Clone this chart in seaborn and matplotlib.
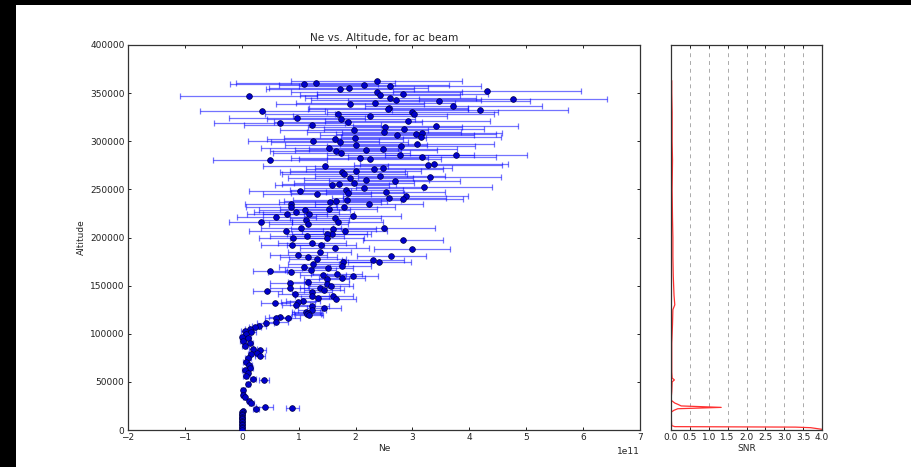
import numpy as np
import matplotlib
matplotlib.use("Agg")
import matplotlib.pyplot as plt
from matplotlib.patches import Rectangle
from matplotlib.ticker import FormatStrFormatter
import seaborn as sns

# Ne profile (Ne in units of 1e11)
alt_top = [362300, 360900, 359100, 358100, 357100, 355700, 354000, 352200, 351200, 349500,
           348500, 347000, 345300, 343900, 342900, 341500, 340200, 338400, 337000, 335000,
           333900, 332900, 331100, 330400, 328300, 327800, 325900, 324600, 323100, 321500,
           320000, 319000, 317300, 316300, 314500, 313100, 311400, 310000, 309000, 307200,
           306500, 304900, 303400, 302100, 300700, 299700, 297600, 296600, 295100, 293400,
           292400, 290600, 289900, 288300, 286200, 285500, 283700, 282600, 281600, 281000]
ne_top = [2.37, 1.30, 1.10, 2.15, 2.61, 1.88, 1.72, 4.31, 2.37, 2.83,
          2.43, 0.12, 2.61, 4.77, 2.71, 3.47, 2.35, 1.91, 3.72, 2.58,
          2.57, 4.19, 0.36, 3.00, 3.03, 1.70, 2.25, 0.97, 1.74, 2.92,
          1.87, 0.67, 1.24, 3.41, 2.52, 2.85, 1.98, 2.50, 3.17, 3.06,
          2.73, 3.15, 1.99, 1.64, 1.26, 1.72, 3.08, 2.01, 2.80, 1.54,
          2.48, 2.19, 1.65, 1.75, 2.79, 3.77, 3.16, 2.07, 2.25, 0.50]
err_top = [1.50, 1.40, 1.30, 1.50, 1.60, 1.40, 1.30, 1.65, 1.50, 1.50,
           1.40, 1.20, 1.50, 1.65, 1.50, 1.60, 1.40, 1.30, 1.55, 1.40,
           1.40, 1.55, 1.10, 1.50, 1.40, 1.30, 1.35, 1.20, 1.30, 1.45,
           1.30, 1.15, 1.20, 1.45, 1.35, 1.40, 1.30, 1.35, 1.40, 1.40,
           1.35, 1.40, 1.25, 1.20, 1.15, 1.20, 1.35, 1.25, 1.30, 1.20,
           1.30, 1.25, 1.15, 1.20, 1.30, 1.25, 1.30, 1.20, 1.25, 1.00]

alt_mid = [276400, 275400, 274400, 272700, 271600, 269200, 268500, 265700, 264400, 262600,
           261600, 259800, 258500, 257100, 255300, 254300, 252600, 251500, 249800, 248400,
           247400, 246300, 244700, 243600, 241500, 240100, 238700, 237700, 236700, 235300,
           234600, 232200, 231500, 229400, 228400, 226600, 224900, 223900, 222400, 220800,
           220100, 218700, 216600, 215900, 213800, 210300, 209700, 208600, 206900, 206300,
           204100, 203400, 201700, 200000, 199600, 197400]
ne_mid = [3.38, 3.27, 1.47, 2.49, 2.33, 2.00, 1.77, 1.80, 2.43, 3.30,
          1.91, 2.19, 2.69, 1.97, 1.71, 1.58, 3.20, 2.14, 1.84, 1.02,
          2.53, 1.86, 1.33, 2.88, 2.59, 2.83, 1.85, 1.65, 1.55, 2.24,
          0.86, 1.80, 0.87, 1.53, 1.11, 0.96, 1.18, 0.80, 1.95, 0.61,
          1.64, 1.13, 0.33, 1.69, 1.17, 1.04, 2.50, 1.61, 0.77, 1.81,
          1.58, 1.50, 1.14, 0.90, 1.49, 2.83]
err_mid = [1.30, 1.30, 1.10, 1.20, 1.20, 1.15, 1.10, 1.10, 1.15, 1.25,
           1.10, 1.10, 1.15, 1.05, 1.00, 1.00, 1.20, 1.05, 1.00, 0.90,
           1.05, 1.00, 0.95, 1.10, 1.00, 1.05, 0.95, 0.90, 0.90, 0.95,
           0.80, 0.90, 0.80, 0.85, 0.80, 0.75, 0.80, 0.70, 0.85, 0.70,
           0.80, 0.75, 0.55, 0.80, 0.70, 0.70, 0.90, 0.75, 0.65, 0.75,
           0.70, 0.70, 0.65, 0.60, 0.65, 0.70]

alt_low = [194400, 192300, 192000, 188600, 187600, 184500, 182000, 180600, 179300, 177800,
           176500, 174700, 174100, 172000, 170500, 169200, 168200, 166400, 164700, 163700,
           162200, 160900, 159900, 158100, 156400, 153900, 152300, 151500, 149500, 147700,
           147100, 145300, 144000, 142900, 140900, 139100, 138800, 136700, 135700, 134200,
           132600, 131800, 129400, 128700, 126300, 124600, 122800, 121800, 120400, 119100,
           117600, 116300, 115900]
ne_low = [1.24, 1.40, 0.89, 1.63, 2.99, 1.37, 0.99, 2.63, 1.17, 1.33,
          2.31, 2.42, 1.78, 1.26, 1.77, 1.10, 1.51, 1.21, 0.49, 0.86,
          1.67, 1.43, 1.95, 1.76, 1.49, 1.16, 0.85, 1.49, 1.56, 0.84,
          1.37, 1.45, 0.45, 1.24, 0.93, 1.23, 1.61, 1.34, 1.65, 1.07,
          0.99, 0.59, 0.95, 1.24, 1.44, 1.23, 1.13, 1.16, 1.14, 1.18,
          0.67, 0.82, 0.61]
err_low = [0.60, 0.60, 0.55, 0.60, 0.67, 0.55, 0.50, 0.60, 0.50, 0.50,
           0.55, 0.55, 0.50, 0.45, 0.50, 0.45, 0.45, 0.45, 0.30, 0.40,
           0.45, 0.40, 0.45, 0.40, 0.40, 0.35, 0.35, 0.40, 0.40, 0.35,
           0.35, 0.35, 0.25, 0.35, 0.30, 0.30, 0.35, 0.30, 0.35, 0.30,
           0.30, 0.25, 0.25, 0.30, 0.30, 0.25, 0.25, 0.25, 0.25, 0.25,
           0.20, 0.20, 0.20]

alt_bot = [112100, 110700, 108300, 106600, 104800, 103100, 101400, 99600, 96800, 95200,
           92700, 90000, 87500, 83800, 83200, 80200, 78600, 76800, 74400, 70900,
           67500, 64000, 62300, 59500, 56100, 52600, 51900, 47700, 41500, 36300,
           33900, 30400, 28300, 23500, 23100, 21800, 20000, 18500, 17000, 15500,
           14000, 12500, 11000, 9500, 8000, 6500, 5000, 3500, 2000, 500]
ne_bot = [0.61, 0.42, 0.30, 0.23, 0.14, 0.05, 0.17, 0.08, 0.01, 0.11,
          0.02, 0.14, 0.05, 0.19, 0.32, 0.26, 0.17, 0.32, 0.11, 0.08,
          0.13, 0.15, 0.05, 0.11, 0.07, 0.20, 0.39, 0.11, 0.02, 0.02,
          0.05, 0.13, 0.17, 0.40, 0.89, 0.25, 0.02, 0.01, 0.01, 0.01,
          0.01, 0.01, 0.01, 0.01, 0.01, 0.01, 0.01, 0.01, 0.01, 0.01]
err_bot = [0.20, 0.15, 0.12, 0.10, 0.08, 0.06, 0.08, 0.06, 0.05, 0.06,
           0.05, 0.06, 0.05, 0.07, 0.10, 0.08, 0.06, 0.08, 0.05, 0.05,
           0.05, 0.05, 0.04, 0.04, 0.04, 0.05, 0.08, 0.04, 0.03, 0.03,
           0.03, 0.04, 0.05, 0.15, 0.12, 0.06, 0.02, 0.01, 0.01, 0.01,
           0.01, 0.01, 0.01, 0.01, 0.01, 0.01, 0.01, 0.01, 0.01, 0.01]

# SNR profile
snr_alt = [363000, 350000, 330000, 300000, 280000, 250000, 220000, 200000, 180000, 160000,
           140000, 130000, 125000, 110000, 100000, 90000, 80000, 70000, 60000, 54000,
           52000, 50000, 40000, 31000, 28000, 26700, 25000, 23500, 22100, 20500,
           18700, 16600, 10000, 4500, 3500, 3000, 2400, 700]
snr = [0.02, 0.02, 0.03, 0.03, 0.04, 0.03, 0.04, 0.05, 0.05, 0.06,
       0.08, 0.10, 0.05, 0.04, 0.03, 0.02, 0.02, 0.02, 0.02, 0.03,
       0.09, 0.03, 0.02, 0.00, 0.10, 0.18, 0.27, 1.33, 0.18, 0.08,
       0.01, 0.00, 0.01, 0.02, 0.10, 3.30, 3.70, 4.00]

alt = np.array(alt_top + alt_mid + alt_low + alt_bot)
ne = np.array(ne_top + ne_mid + ne_low + ne_bot) * 1e11
ne_err = np.array(err_top + err_mid + err_low + err_bot) * 1e11

sns.set_style("ticks")
plt.rcParams['font.family'] = ['DejaVu Sans']
plt.rcParams['xtick.direction'] = 'in'
plt.rcParams['ytick.direction'] = 'in'
plt.rcParams['axes.edgecolor'] = '#333333'
plt.rcParams['axes.linewidth'] = 0.9

fig = plt.figure(figsize=(9.12, 4.67), dpi=100)
fig.patch.set_facecolor('black')
fig.add_artist(Rectangle((16 / 912, 0), 1 - 16 / 912, 1 - 5 / 467,
                         transform=fig.transFigure, facecolor='white',
                         edgecolor='none', zorder=-10))

ax = fig.add_axes([128 / 912, 37 / 467, 512 / 912, 385 / 467])
ax2 = fig.add_axes([671 / 912, 37 / 467, 151 / 912, 385 / 467])

# Ne with error bars
ax.errorbar(ne, alt, xerr=ne_err, fmt='none', ecolor=(0, 0, 1, 0.55),
            elinewidth=0.9, capsize=2, capthick=0.9, zorder=2)
sns.scatterplot(x=ne, y=alt, ax=ax, color='#0000cc', edgecolor='#000044',
                s=17, linewidth=0.5, zorder=3, legend=False)

ax.set_xlim(-2e11, 7e11)
ax.set_ylim(0, 400000)
ax.set_xticks(np.arange(-2, 8) * 1e11)
ax.set_yticks(np.arange(0, 400001, 50000))
ax.tick_params(labelsize=6.5, length=2.5, width=0.7, pad=2.5, colors='#222222',
               top=True, right=True)
ax.xaxis.get_offset_text().set_fontsize(6.5)
ax.set_title("Ne vs. Altitude, for ac beam", fontsize=7.6, pad=3)
ax.set_xlabel("Ne", fontsize=6.5, labelpad=1)
ax.set_ylabel("Altitude", fontsize=6.5, labelpad=3)

# SNR panel
sns.lineplot(x=snr, y=snr_alt, ax=ax2, sort=False, estimator=None,
             color='#ff3030', lw=0.9)
ax2.set_xlim(0, 4)
ax2.set_ylim(0, 400000)
ax2.set_xticks(np.arange(0, 4.01, 0.5))
ax2.xaxis.set_major_formatter(FormatStrFormatter('%.1f'))
ax2.set_yticks([])
ax2.xaxis.grid(True, ls=(0, (4, 4)), color='#aaaaaa', lw=0.7)
ax2.tick_params(labelsize=6.5, length=2.5, width=0.7, pad=2.5, colors='#222222',
                top=True)
ax2.set_xlabel("SNR", fontsize=6.5, labelpad=1)
ax2.set_ylabel("")

fig.savefig("out.png", dpi=100, facecolor=fig.get_facecolor())
